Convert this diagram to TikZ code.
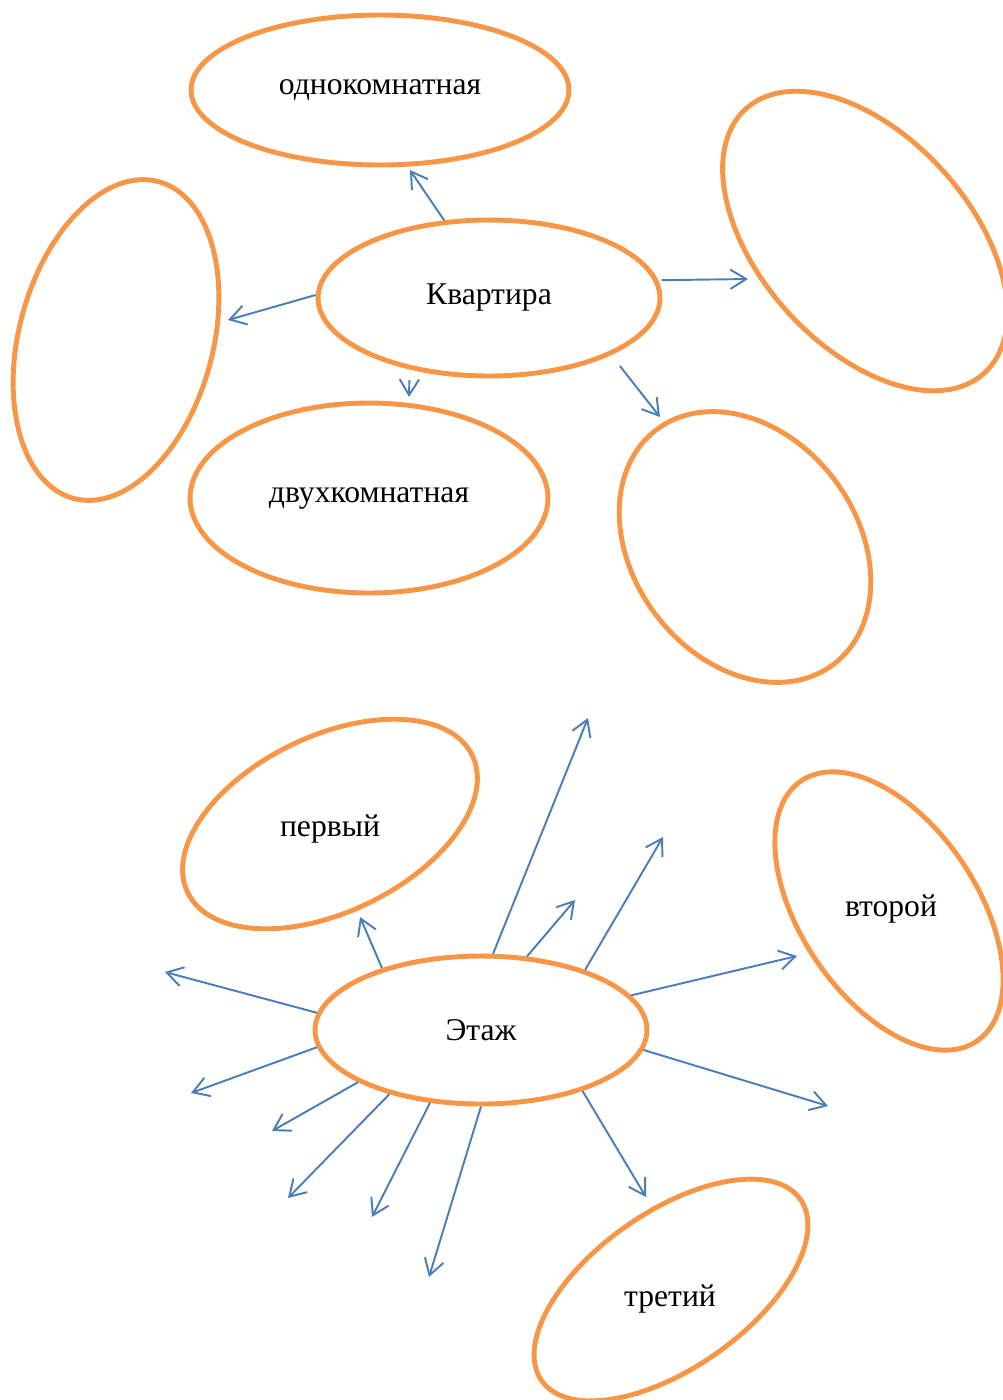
\documentclass[tikz,border=0pt]{standalone}
\usepackage{fontspec}
\setmainfont{Liberation Serif}
\usepackage{tikz}
\usetikzlibrary{arrows.meta,
		positioning,
		shapes.geometric}
\definecolor{orng}{HTML}{F79646}
\definecolor{blu}{HTML}{4A7EBB}

\begin{document}
\begin{tikzpicture}[
				x=0.02cm, y=-0.02cm,
				font=\fontsize{18}{22}\selectfont,
				blob/.style={ellipse,draw=orng,line width=2.8pt,inner sep=0pt},
				arr/.style={draw=blu,line width=1.1pt,-{Straight Barb[length=9pt,width=11pt]}}
				]
		\useasboundingbox (0,0) rectangle (1003,1400);
		% upper group
		\node[blob,minimum width=6.84cm,minimum height=3.12cm] (kv) at (489,298) {Квартира};
		\node[blob,minimum width=7.56cm,minimum height=3.0cm] (odn) at (380,90) {однокомнатная};
		\node[blob,minimum width=7.16cm,minimum height=3.8cm] (dvu) at (369,498) {двухкомнатная};
		\node[blob,minimum width=6.56cm,minimum height=3.88cm,rotate=75] (lf) at (116,340) {};
		\node[blob,minimum width=7.12cm,minimum height=4.2cm,rotate=-48] (rt) at (865,241) {};
		\node[blob,minimum width=5.88cm,minimum height=4.48cm,rotate=-53] (rb) at (745,547) {};
		\coordinate (t1) at (410,170);
		\coordinate (t2) at (228,320);
		\coordinate (t3) at (409,397);
		\coordinate (t4) at (748,279);
		\coordinate (t5) at (660,417);
		\draw[arr] (kv.120) -- (t1);
		\draw[arr] (kv.179) -- (t2);
		\draw[arr,shorten <=6pt] (kv.222) -- (t3);
		\draw[arr,shorten <=2pt] (kv.6) -- (t4);
		\draw[arr,shorten <=8pt] (kv.335.5) -- (t5);
		% lower group
		\node[blob,minimum width=6.64cm,minimum height=2.96cm] (et) at (481,1030) {Этаж};
		\node[blob,minimum width=6.32cm,minimum height=3.52cm,rotate=25.7] (perv) at (330,824) {};
		\node[blob,minimum width=6.28cm,minimum height=3.52cm,rotate=-56] (vtor) at (889,911) {};
		\node[blob,minimum width=6.32cm,minimum height=3.12cm,rotate=35] (tret) at (671,1290) {};
		\node (pervtxt) at (330,829) {первый};
		\node (vtortxt) at (891,909) {второй};
		\node (trettxt) at (670,1299) {третий};
		\coordinate (e1) at (360,917);
		\coordinate (e2) at (165,972);
		\coordinate (e3) at (191,1093);
		\coordinate (e4) at (272,1131);
		\coordinate (e5) at (288,1198);
		\coordinate (e6) at (372,1217);
		\coordinate (e7) at (429,1277);
		\coordinate (e8) at (646,1197);
		\coordinate (e9) at (828,1106);
		\coordinate (e10) at (797,956);
		\coordinate (e11) at (663,837);
		\coordinate (e12) at (575,900);
		\coordinate (e13) at (588,718);
		\foreach \a/\p in {148/e1,174.8/e2,186.2/e3,203.3/e4,215.5/e5,235/e6,270/e7,
				329.2/e8,353.8/e9,13/e10,30.9/e11,58.5/e12,81/e13}
			\draw[arr] (et.\a) -- (\p);
\end{tikzpicture}
\end{document}
